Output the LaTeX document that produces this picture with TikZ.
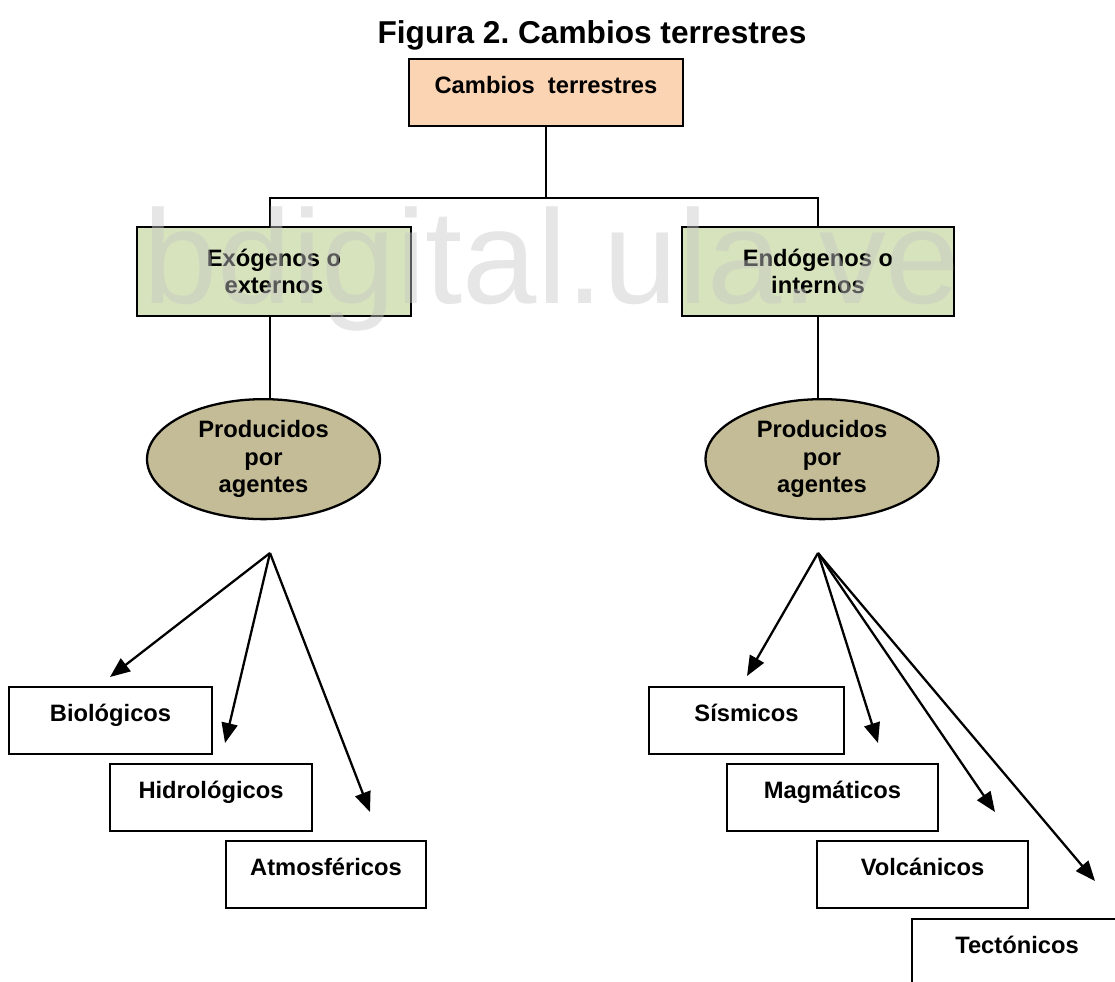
\documentclass[tikz,border=0pt]{standalone}
\usepackage{fontspec}
\setmainfont{Liberation Sans}
\frenchspacing
\usetikzlibrary{arrows.meta,shapes.geometric}
\definecolor{peach}{RGB}{251,212,180}
\definecolor{palegreen}{RGB}{214,227,188}
\definecolor{khaki}{RGB}{196,188,150}

\begin{document}
\begin{tikzpicture}[x=0.02cm,y=-0.02cm,line width=1.3pt,
    lbl/.style={font=\fontsize{13.5}{15.5}\selectfont\bfseries},
    onebox/.style={lbl,draw,inner sep=0pt,text height=0.68cm,text depth=0.66cm,anchor=north},
    twobox/.style={lbl,draw,fill=palegreen,align=center,inner sep=0pt,minimum height=1.78cm,anchor=north},
    agent/.style={lbl,draw,ellipse,fill=khaki,align=center,inner sep=0pt,minimum width=4.66cm,minimum height=2.4cm,anchor=north},
    fan/.style={-{Triangle[length=0.4cm,width=0.32cm]}}]
  \useasboundingbox (0,0) rectangle (1115,981);
  \clip (0,0) rectangle (1115,981);

  %% Title
  \node[font=\fontsize{18}{20}\selectfont\bfseries,anchor=base] (title) at (592,43) {Figura 2. Cambios terrestres};

  %% Root
  \node[onebox,fill=peach,minimum width=5.48cm] (top) at (546,58) {Cambios\ \ terrestres};

  %% Second level
  \node[twobox,minimum width=5.48cm] (exo) at (274,226) {Exógenos o\\externos};
  \node[twobox,minimum width=5.44cm] (endo) at (818,226) {Endógenos o\\internos};

  %% Agents
  \node[agent] (agL) at (263.5,398) {Producidos\\por\\agentes};
  \node[agent] (agR) at (822,398) {Producidos\\por\\agentes};

  %% External kinds
  \node[onebox,minimum width=4.06cm] (bio) at (110.5,686) {Biológicos};
  \node[onebox,minimum width=4.04cm] (hidro) at (211,763) {Hidrológicos};
  \node[onebox,minimum width=4.0cm] (atmos) at (326,840) {Atmosféricos};

  %% Internal kinds
  \node[onebox,minimum width=3.9cm] (sism) at (746.5,686) {Sísmicos};
  \node[onebox,minimum width=4.22cm] (magma) at (832.5,763) {Magmáticos};
  \node[onebox,minimum width=4.22cm] (volc) at (922.5,840) {Volcánicos};
  \node[onebox,minimum width=4.2cm] (tect) at (1017,918) {Tectónicos};

  %% Tree lines
  \coordinate (busL) at (270,198);
  \coordinate (busR) at (818,198);
  \draw (top.south) -- (top.south |- busL);
  \draw (busL |- exo.north) -- (busL) -- (busR) -- (busR |- endo.north);
  \draw (busL |- exo.south) -- (busL |- agL.north);
  \draw (busR |- endo.south) -- (busR |- agR.north);

  %% Arrow fans
  \coordinate (fanL) at (270,553);
  \coordinate (fanR) at (818,553);
  \coordinate (tipBio) at (110,677);
  \coordinate (tipHidro) at (225,743);
  \coordinate (tipAtmos) at (370,812);
  \coordinate (tipSism) at (747,676);
  \coordinate (tipMagma) at (878,743);
  \coordinate (tipVolc) at (995,812);
  \coordinate (tipTect) at (1095,881);
  \foreach \t in {tipBio,tipHidro,tipAtmos}
    \draw[fan] (fanL) -- (\t);
  \foreach \t in {tipSism,tipMagma,tipVolc,tipTect}
    \draw[fan] (fanR) -- (\t);

  %% Watermark
  \node[font=\fontsize{76}{76}\selectfont,text=black!22,opacity=0.45,anchor=base] (wmark) at (552,303) {bdigital.ula.ve};
\end{tikzpicture}
\end{document}
